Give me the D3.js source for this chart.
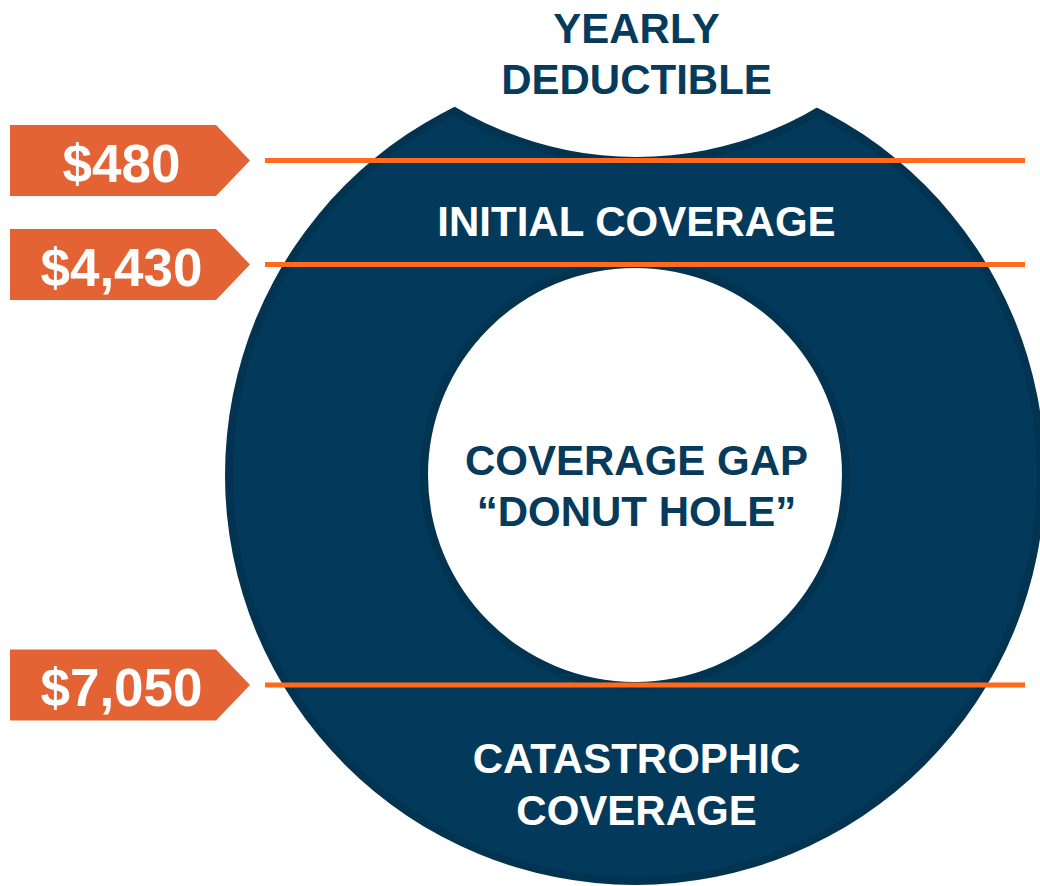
<!DOCTYPE html>
<html>
<head>
<meta charset="utf-8">
<script src="https://cdn.jsdelivr.net/npm/d3@7"></script>
<style>
  html, body { margin: 0; padding: 0; background: #ffffff; }
  svg { display: block; }
</style>
</head>
<body>
<svg id="chart" width="1040" height="886"></svg>
<script>
// Out-of-pocket thresholds that separate the Part D coverage phases
const thresholds = ["$480", "$4,430", "$7,050"];

// Coverage phases, top to bottom, each split into its display lines
const phaseLines = [
  ["YEARLY", "DEDUCTIBLE"],
  ["INITIAL COVERAGE"],
  ["COVERAGE GAP", "\u201CDONUT HOLE\u201D"],
  ["CATASTROPHIC", "COVERAGE"]
];
// Whether a phase label sits on the dark ring (white text) or on white
const phaseOnRing = [false, true, false, true];

// ---- layout ----
const W = 1040, H = 886;
const cx = 635, cy = 475;
const outerR = 410, holeR = 207;
const cut = { x: 636.5, y: -197, r: 354 };
const band = 8;

const colors = {
  ring: "#033a5c",
  ringEdge: "#023452",
  navyText: "#073b5c",
  line: "#ff6a1c",
  tag: "#e36335",
  white: "#ffffff"
};

// Vertical position of each threshold line
const yThreshold = d3.scaleOrdinal().domain(thresholds).range([160.5, 264.5, 685]);
// Baselines of each phase's text lines
const yPhase = d3.scaleOrdinal().domain(d3.range(phaseLines.length))
  .range([[43, 94], [236], [475, 526], [773, 825]]);

const svg = d3.select("#chart");
const defs = svg.append("defs");

defs.append("clipPath").attr("id", "outerClip")
  .append("circle").attr("cx", cx).attr("cy", cy).attr("r", outerR);

const ring = d3.arc().startAngle(0).endAngle(2 * Math.PI);

// ---- donut ----
const donut = svg.append("g");
const ringG = donut.append("g").attr("transform", `translate(${cx},${cy})`);
ringG.append("path").attr("fill", colors.ringEdge)
  .attr("d", ring({ innerRadius: holeR, outerRadius: outerR }));
ringG.append("path").attr("fill", colors.ring)
  .attr("d", ring({ innerRadius: holeR + band, outerRadius: outerR - band }));

// deductible notch cut into the top of the ring
const notch = donut.append("g").attr("clip-path", "url(#outerClip)");
notch.append("circle").attr("cx", cut.x).attr("cy", cut.y).attr("r", cut.r + band)
  .attr("fill", colors.ringEdge);
donut.append("circle").attr("cx", cut.x).attr("cy", cut.y).attr("r", cut.r)
  .attr("fill", colors.white);

// ---- threshold lines ----
svg.append("g").selectAll("line").data(thresholds).join("line")
  .attr("x1", 265).attr("x2", 1025)
  .attr("y1", d => yThreshold(d)).attr("y2", d => yThreshold(d))
  .attr("stroke", colors.line).attr("stroke-width", 5);

// ---- threshold tags ----
const tagH = 71, tagX0 = 10, tagX1 = 216, tagTip = 250;
const tags = svg.append("g").selectAll("g").data(thresholds).join("g")
  .attr("transform", d => `translate(0,${yThreshold(d)})`);
tags.append("path")
  .attr("fill", colors.tag)
  .attr("d", d3.line()([
    [tagX0, -tagH / 2], [tagX1, -tagH / 2], [tagTip, 0],
    [tagX1, tagH / 2], [tagX0, tagH / 2]
  ]) + "Z");
tags.append("text")
  .attr("x", 121.5).attr("y", 21)
  .attr("text-anchor", "middle")
  .attr("font-family", "'Liberation Sans', Arial, sans-serif")
  .attr("font-weight", "bold")
  .attr("font-size", 53)
  .attr("fill", colors.white)
  .text(d => d);

// ---- phase labels ----
const phases = svg.append("g").selectAll("text").data(phaseLines).join("text")
  .attr("text-anchor", "middle")
  .attr("font-family", "'Liberation Sans', Arial, sans-serif")
  .attr("font-weight", "bold")
  .attr("font-size", 42)
  .attr("fill", (d, i) => phaseOnRing[i] ? colors.white : colors.navyText);
phases.each(function(lines, i) {
  const ys = yPhase(i);
  d3.select(this).selectAll("tspan").data(lines).join("tspan")
    .attr("x", 636.5)
    .attr("y", (d, j) => ys[j])
    .text(d => d);
});
</script>
</body>
</html>
